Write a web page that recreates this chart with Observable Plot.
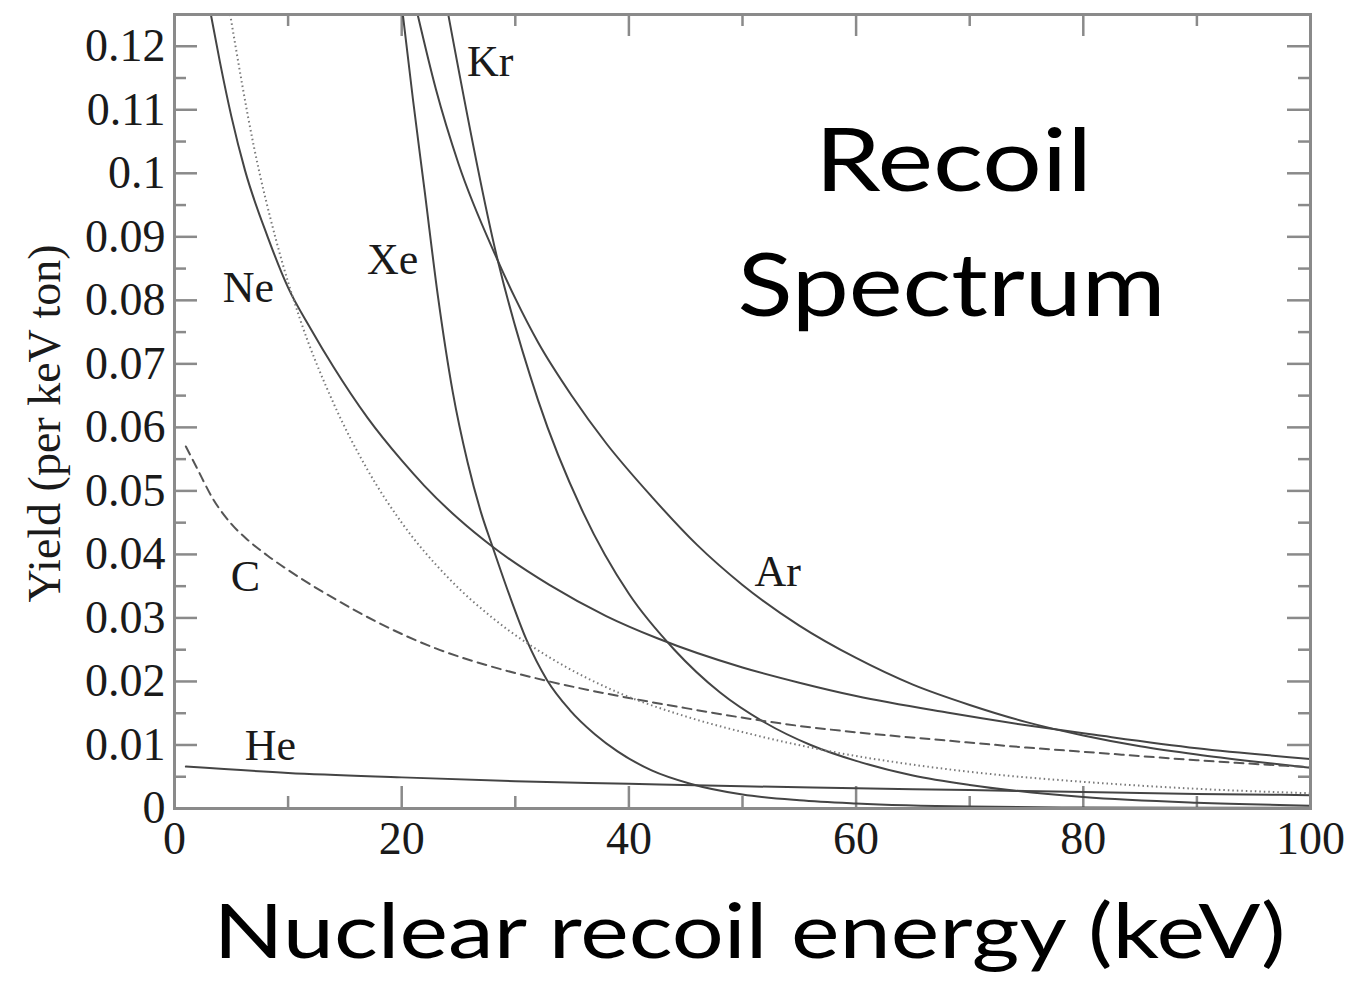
<!DOCTYPE html>
<html><head><meta charset="utf-8">
<script src="https://cdn.jsdelivr.net/npm/d3@7"></script>
<script src="https://cdn.jsdelivr.net/npm/@observablehq/plot@0.6"></script>
<style>html,body{margin:0;padding:0;background:#fff;} #chart svg{display:block}</style>
</head><body><div id="chart"></div>
<script>
// ---- axes ----
const xTicks = [0, 20, 40, 60, 80, 100];
const xTickLabels = ["0", "20", "40", "60", "80", "100"];
const xMinorTicks = [10, 30, 50, 70, 90];
const yTicks = [0, 0.01, 0.02, 0.03, 0.04, 0.05, 0.06, 0.07, 0.08, 0.09, 0.1, 0.11, 0.12];
const yTickLabels = ["0", "0.01", "0.02", "0.03", "0.04", "0.05", "0.06", "0.07", "0.08", "0.09", "0.1", "0.11", "0.12"];
const yMinorTicks = [0.005, 0.015, 0.025, 0.035, 0.045, 0.055, 0.065, 0.075, 0.085, 0.095, 0.105, 0.115];

// ---- series (recoil energy keV, yield per keV ton) ----
const neX = [3.2, 4, 5, 6.2, 8.2, 10, 12, 14, 17, 20, 22, 25, 28, 33, 38, 42.5, 50, 55, 60, 68, 75, 81, 90, 100];
const neY = [0.125, 0.1175, 0.109, 0.1005, 0.090, 0.082, 0.0755, 0.0695, 0.0615, 0.0548, 0.0508, 0.0456, 0.0412, 0.0352, 0.0303, 0.0268, 0.0222, 0.0198, 0.0177, 0.0151, 0.0131, 0.0116, 0.0095, 0.0078];

const dotX = [4.9, 7, 9, 11, 14, 17, 20, 24, 28, 33, 39, 45, 51, 58, 65, 72, 80, 90, 100];
const dotY = [0.125, 0.1041, 0.0891, 0.0773, 0.0638, 0.0533, 0.0450, 0.0365, 0.0300, 0.0238, 0.0183, 0.0145, 0.0116, 0.0089, 0.0069, 0.0054, 0.0042, 0.0031, 0.0024];

const cX = [1, 2, 3.4, 5, 6.5, 8.2, 10.8, 14.3, 18, 23, 28, 33, 40, 45, 50.7, 55, 60, 68, 75, 81, 90, 100];
const cY = [0.057, 0.0535, 0.0487, 0.0448, 0.0422, 0.0398, 0.0366, 0.0328, 0.0292, 0.0252, 0.0223, 0.0200, 0.0174, 0.0158, 0.0141, 0.0130, 0.0120, 0.0107, 0.0096, 0.0088, 0.0076, 0.0065];

const heX = [1, 10, 20, 30, 40, 50, 60, 70, 80, 90, 100];
const heY = [0.0066, 0.0056, 0.0049, 0.0043, 0.0039, 0.0035, 0.0032, 0.0029, 0.0026, 0.0023, 0.0021];

const xeX = [20.1, 21, 22, 23.2, 24.5, 25.8, 27, 28, 29.5, 31, 32.8, 34.8, 37, 39, 42, 45.4, 50, 55, 60, 70, 80, 100];
const xeY = [0.125, 0.1115, 0.0975, 0.0805, 0.0655, 0.0545, 0.0465, 0.0412, 0.0335, 0.0265, 0.0202, 0.0155, 0.0117, 0.0090, 0.0060, 0.0039, 0.0022, 0.0013, 0.0008, 0.0003, 0.00015, 0.0001];

const krX = [24.1, 28.4, 32, 36, 40, 44, 48, 52, 56, 60, 65, 70, 80, 90, 100];
const krY = [0.125, 0.0867, 0.0643, 0.0465, 0.0338, 0.0250, 0.0183, 0.0135, 0.0100, 0.0075, 0.0052, 0.0037, 0.0018, 0.0009, 0.00045];

const arX = [21.4, 23, 25, 28.4, 30, 32, 35, 38, 42, 46, 50, 55, 60, 65, 70, 75, 80, 85, 90, 95, 100];
const arY = [0.125, 0.1133, 0.1015, 0.0865, 0.0803, 0.0734, 0.0649, 0.0575, 0.0491, 0.0415, 0.0352, 0.0288, 0.0237, 0.0195, 0.0163, 0.0136, 0.0115, 0.0098, 0.0085, 0.0074, 0.0064];

// ---- curve labels ----
const labelNames = ["Kr", "Xe", "Ne", "Ar", "C", "He"];
const labelX = [27.8, 19.2, 6.5, 53.1, 6.25, 8.45];
const labelY = [0.1175, 0.0863, 0.0819, 0.0372, 0.0364, 0.0099];

const zip = (name, xs, ys) => xs.map((x, i) => ({name, x, y: ys[i]}));
const solid = [
  ...zip("Ne", neX, neY), ...zip("He", heX, heY), ...zip("Xe", xeX, xeY),
  ...zip("Kr", krX, krY), ...zip("Ar", arX, arY)
];
const dotted = zip("dotted", dotX, dotY);
const dashed = zip("C", cX, cY);
const labels = labelNames.map((t, i) => ({t, x: labelX[i], y: labelY[i]}));

const serif = "Liberation Serif, Times New Roman, serif";
const sans = "Lato, Open Sans, sans-serif";
const W = 1356, H = 982, mL = 174, mR = 46, mT = 14, mB = 174;
const fw = W - mL - mR, fh = H - mT - mB;
const tickColor = "#8a8a8a";

const chart = Plot.plot({
  width: W, height: H,
  marginLeft: mL, marginRight: mR, marginTop: mT, marginBottom: mB,
  x: {domain: [0, 100]},
  y: {domain: [0, 0.125]},
  style: {background: "#fff"},
  marks: [
    // inward ticks on all four sides
    Plot.tickY(yTicks, {y: d => d, insetRight: fw - 23, stroke: tickColor, strokeWidth: 2.5}),
    Plot.tickY(yTicks, {y: d => d, insetLeft: fw - 23, stroke: tickColor, strokeWidth: 2.5}),
    Plot.tickY(yMinorTicks, {y: d => d, insetRight: fw - 12, stroke: tickColor, strokeWidth: 2.5}),
    Plot.tickY(yMinorTicks, {y: d => d, insetLeft: fw - 12, stroke: tickColor, strokeWidth: 2.5}),
    Plot.tickX(xTicks, {x: d => d, insetTop: fh - 22, stroke: tickColor, strokeWidth: 2.5}),
    Plot.tickX(xTicks, {x: d => d, insetBottom: fh - 22, stroke: tickColor, strokeWidth: 2.5}),
    Plot.tickX(xMinorTicks, {x: d => d, insetTop: fh - 12, stroke: tickColor, strokeWidth: 2.5}),
    Plot.tickX(xMinorTicks, {x: d => d, insetBottom: fh - 12, stroke: tickColor, strokeWidth: 2.5}),
    // curves
    Plot.line(solid, {x: "x", y: "y", z: "name", stroke: "#444", strokeWidth: 2, curve: "monotone-x", clip: true}),
    Plot.line(dashed, {x: "x", y: "y", stroke: "#555", strokeWidth: 2, strokeDasharray: "9,6", curve: "monotone-x", clip: true}),
    Plot.line(dotted, {x: "x", y: "y", stroke: "#7a7a7a", strokeWidth: 2, strokeDasharray: "1.5,3", strokeLinecap: "butt", curve: "monotone-x", clip: true}),
    Plot.frame({stroke: "#8a8a8a", strokeWidth: 3}),
    // curve labels
    Plot.text(labels, {x: "x", y: "y", text: "t", fontSize: 44, fontFamily: serif, fill: "#1a1a1a"}),
    // axes
    Plot.axisY({ticks: yTicks, tickFormat: d => yTickLabels[yTicks.indexOf(d)], tickSize: 0, tickPadding: 9,
      fontSize: 46, fontFamily: serif, fill: "#1a1a1a", label: null}),
    Plot.axisX({ticks: xTicks, tickFormat: d => xTickLabels[xTicks.indexOf(d)], tickSize: 0, tickPadding: 13,
      fontSize: 46, fontFamily: serif, fill: "#1a1a1a", label: null}),
    // y-axis title
    Plot.text(["Yield (per keV ton)"], {frameAnchor: "left", textAnchor: "middle", rotate: -90, dx: -129, dy: 12,
      fontSize: 46, fontFamily: serif, fill: "#1a1a1a"}),
    // annotation
    Plot.text(["Recoil"], {frameAnchor: "top", dx: 211, dy: 176, lineAnchor: "bottom",
      fontSize: 88, fontFamily: sans, fill: "#000"}),
    Plot.text(["Spectrum"], {frameAnchor: "top", dx: 209, dy: 301, lineAnchor: "bottom",
      fontSize: 88, fontFamily: sans, fill: "#000"}),
    // x-axis title
    Plot.text(["Nuclear recoil energy (keV)"], {frameAnchor: "bottom", dx: 7, dy: 149, lineAnchor: "bottom",
      fontSize: 76, fontFamily: sans, fill: "#000"})
  ]
});
// the reference typography is horizontally stretched; match its widths
const stretch = {"Recoil": 277, "Spectrum": 428, "Nuclear recoil energy (keV)": 1072};
chart.querySelectorAll("text").forEach(t => {
  const w = stretch[t.textContent];
  if (w) { t.setAttribute("textLength", w); t.setAttribute("lengthAdjust", "spacingAndGlyphs"); }
});
document.getElementById("chart").append(chart);
</script>
</body></html>
